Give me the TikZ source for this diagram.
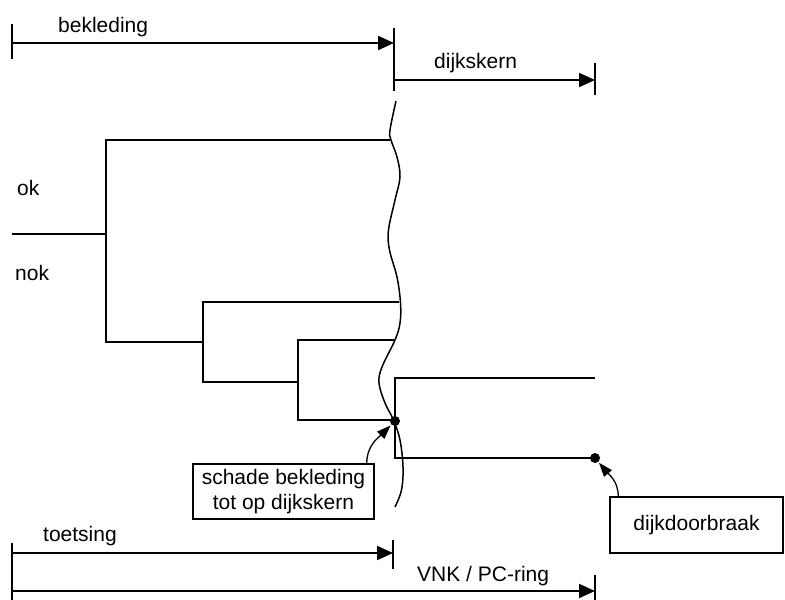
\documentclass[tikz,border=0pt]{standalone}
\usepackage{fontspec}
\setmainfont{Liberation Sans}
\usetikzlibrary{arrows.meta}
\begin{document}
\begin{tikzpicture}[x=1pt,y=-1pt,
  every node/.style={font=\fontsize{21}{25}\selectfont, inner sep=0pt},
  ln/.style={line width=2pt},
  dim/.style={line width=2pt,-{Triangle[length=16pt,width=14pt]}},
  lbl/.style={anchor=base west},
  box/.style={draw, line width=1.5pt, align=center},
  dot/.style={circle, fill=black, minimum size=10pt, inner sep=0pt},
  pointer/.style={line width=1.3pt,-{Triangle[length=14pt,width=10pt]}, shorten >=1pt}]
\useasboundingbox (0,0) rectangle (785,600);
% dimension lines, top
\coordinate (bL) at (12,43);   \coordinate (bR) at (394,43);
\coordinate (kL) at (394,80);  \coordinate (kR) at (595,80);
\draw[ln] (12,24) -- (12,59);
\draw[ln] (394,28) -- (394,91);
\draw[ln] (595,63) -- (595,95);
\draw[dim] (bL) -- (bR);
\draw[dim] (kL) -- (kR);
\node[lbl] (tb) at (58,32) {bekleding};
\node[lbl] (tk) at (434,68) {dijkskern};
% dimension lines, bottom
\coordinate (tL) at (12,553);  \coordinate (tR) at (393,553);
\coordinate (vL) at (12,591);  \coordinate (vR) at (595,591);
\draw[ln] (12,543) -- (12,600);
\draw[ln] (393,540) -- (393,569);
\draw[ln] (595,575) -- (595,600);
\draw[dim] (tL) -- (tR);
\draw[dim] (vL) -- (vR);
\node[lbl] (tt) at (43,541) {toetsing};
\node[lbl] (tv) at (417,581) {VNK / PC-ring};
% ok / nok
\node[lbl] (ok) at (17,195) {ok};
\node[lbl] (nok) at (15,280) {nok};
% event tree
\draw[ln] (12,234) -- (106,234);
\draw[ln] (390,140) -- (106,140) -- (106,342) -- (203,342);
\draw[ln] (399,302) -- (203,302) -- (203,382) -- (298,382);
\draw[ln] (394,340) -- (298,340) -- (298,420) -- (395,420);
% wavy boundary
\draw[line width=1.5pt] plot[smooth, tension=0.6] coordinates {
  (396,101) (390,130) (391,140) (397,157) (400,177) (395,200) (388.5,230)
  (389.5,250) (397,277) (400.5,303) (400,323) (395,340) (382,367) (379,383)
  (385,403) (393.5,420) (400,440) (403,467) (401.5,490) (395,507)};
% right branch
\draw[ln] (595,378) -- (395,378) -- (395,458) -- (595,458);
\node[dot] (d1) at (395,421) {};
\node[dot] (d2) at (595,458) {};
% boxes
\node[box, minimum width=181pt, minimum height=55pt] (schade) at (283.5,491.5)
  {schade bekleding\\tot op dijkskern};
\node[box, minimum width=173pt, minimum height=56pt] (dd) at (696.5,525) {dijkdoorbraak};
\draw[pointer] ([xshift=-8pt]schade.north east) to[out=90,in=-135] (d1);
\draw[pointer] ([xshift=9pt]dd.north west) to[out=90,in=-50] (d2);
\end{tikzpicture}
\end{document}
